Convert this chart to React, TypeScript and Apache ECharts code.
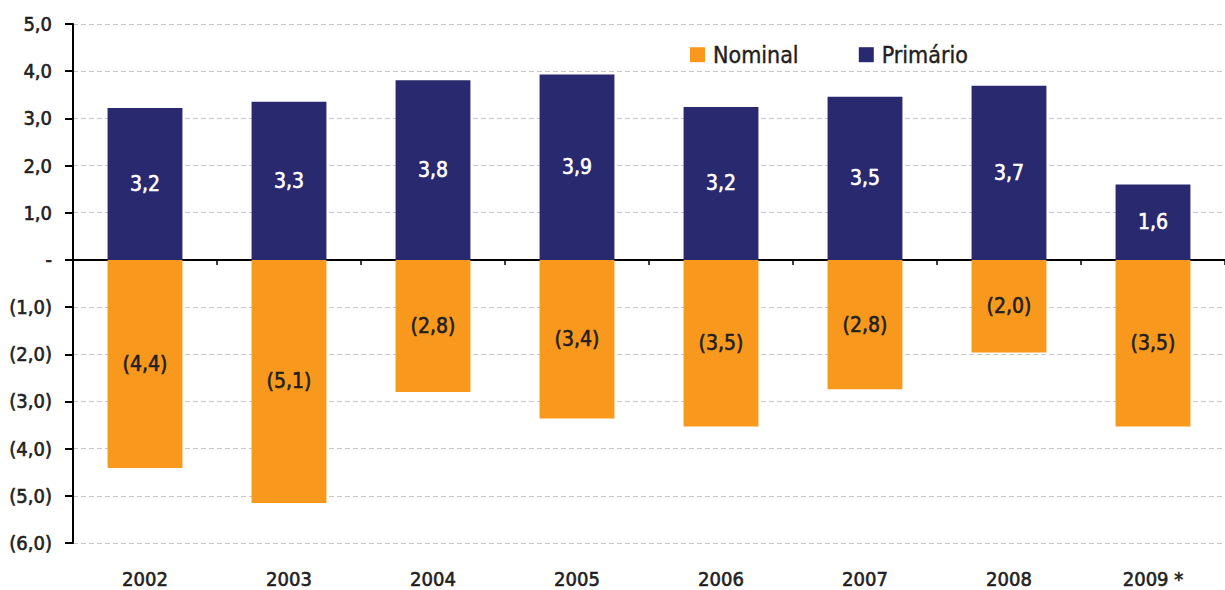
import React, { useEffect, useRef } from "react";
import * as echarts from "echarts";

const categories = ["2002", "2003", "2004", "2005", "2006", "2007", "2008", "2009 *"];
const nominal = [-4.41, -5.15, -2.8, -3.36, -3.53, -2.74, -1.96, -3.53];
const nominalLabels = ["(4,4)", "(5,1)", "(2,8)", "(3,4)", "(3,5)", "(2,8)", "(2,0)", "(3,5)"];
const primario = [3.22, 3.35, 3.81, 3.93, 3.24, 3.46, 3.69, 1.6];
const primarioLabels = ["3,2", "3,3", "3,8", "3,9", "3,2", "3,5", "3,7", "1,6"];

const FONT = "'DejaVu Sans Condensed', 'Liberation Sans Narrow', sans-serif";
const TEXT = "#231f20";

function fmtTick(v: number): string {
  if (Math.abs(v) < 1e-9) return "-";
  const s = Math.abs(v).toFixed(1).replace(".", ",");
  return v < 0 ? "(" + s + ")" : s;
}

export default function App() {
  const ref = useRef<HTMLDivElement>(null);
  useEffect(() => {
    if (!ref.current) return;
    const chart = echarts.init(ref.current, undefined, { renderer: "svg" });
    const darkText = { fontFamily: FONT, color: TEXT, textBorderColor: TEXT, textBorderWidth: 0.6 };
    chart.setOption({
      animation: false,
      textStyle: { fontFamily: FONT },
      legend: {
        data: ["Nominal", "Primário"],
        left: 690,
        top: 43,
        padding: 0,
        itemWidth: 15,
        itemHeight: 15,
        itemGap: 60,
        icon: "rect",
        textStyle: { ...darkText, fontSize: 23, textBorderWidth: 0.4, padding: [0, 0, 0, 3] },
      },
      grid: { left: 73, right: 0, top: 24, bottom: 47 },
      xAxis: [
        {
          type: "category",
          data: categories,
          position: "bottom",
          axisLine: { onZero: true, lineStyle: { color: "#000", width: 2 } },
          axisTick: { show: true, length: 5, lineStyle: { color: "#000", width: 1.5 } },
          axisLabel: { show: false },
          splitLine: { show: false },
        },
        {
          type: "category",
          data: categories,
          position: "bottom",
          axisLine: { show: false, onZero: false },
          axisTick: { show: false },
          axisLabel: { show: true, margin: 26, fontSize: 20, ...darkText },
        },
      ],
      yAxis: {
        type: "value",
        min: -6,
        max: 5,
        interval: 1,
        axisLine: { show: true, lineStyle: { color: "#000", width: 2 } },
        axisTick: { show: true, length: 8, lineStyle: { color: "#000", width: 2 } },
        axisLabel: { formatter: fmtTick, margin: 21, fontSize: 20, ...darkText },
        splitLine: { show: true, lineStyle: { color: "#c8c8c8", type: [5, 3], width: 1 } },
      },
      series: [
        {
          name: "Nominal",
          type: "bar",
          stack: "total",
          barWidth: "52%",
          data: nominal,
          itemStyle: { color: "#F8991D" },
          label: {
            show: true,
            position: "inside",
            formatter: (p: any) => nominalLabels[p.dataIndex],
            fontSize: 21,
            ...darkText,
          },
        },
        {
          name: "Primário",
          type: "bar",
          stack: "total",
          barWidth: "52%",
          data: primario,
          itemStyle: { color: "#29296F" },
          label: {
            show: true,
            position: "inside",
            formatter: (p: any) => primarioLabels[p.dataIndex],
            fontFamily: FONT,
            fontSize: 21,
            color: "#ffffff",
            textBorderColor: "#ffffff",
            textBorderWidth: 0.6,
          },
        },
      ],
    });
    return () => chart.dispose();
  }, []);
  return <div ref={ref} style={{ width: 1225, height: 590, position: "absolute", left: 0, top: 0 }} />;
}
